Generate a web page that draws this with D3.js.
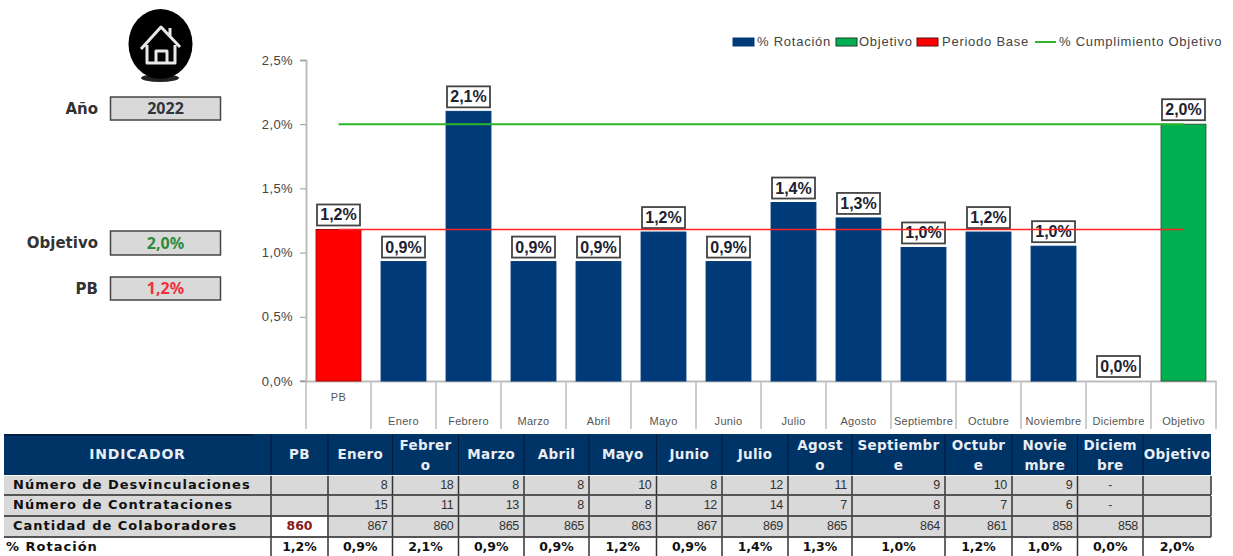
<!DOCTYPE html>
<html>
<head>
<meta charset="utf-8">
<script src="https://cdn.jsdelivr.net/npm/d3@7"></script>
<style>
  html, body { margin: 0; padding: 0; background: #fff; }
  svg { display: block; }
  text { font-family: "Liberation Sans", Arial, sans-serif; }
</style>
</head>
<body>
<div id="chart"></div>
<script>
var categories = ['PB', 'Enero', 'Febrero', 'Marzo', 'Abril', 'Mayo', 'Junio', 'Julio', 'Agosto', 'Septiembre', 'Octubre', 'Noviembre', 'Diciembre', 'Objetivo'];
var rotacion = [1.18, 0.93, 2.10, 0.93, 0.93, 1.16, 0.93, 1.39, 1.27, 1.04, 1.16, 1.05, 0, 2.0];
var etiquetas = ['1,2%', '0,9%', '2,1%', '0,9%', '0,9%', '1,2%', '0,9%', '1,4%', '1,3%', '1,0%', '1,2%', '1,0%', '0,0%', '2,0%'];
var objetivo = 2.0;
var periodoBase = 1.18;
var yTicks = [0, 0.5, 1, 1.5, 2, 2.5];

var headers = ['INDICADOR', ['PB'], ['Enero'], ['Febrer', 'o'], ['Marzo'], ['Abril'], ['Mayo'], ['Junio'], ['Julio'], ['Agost', 'o'], ['Septiembr', 'e'], ['Octubr', 'e'], ['Novie', 'mbre'], ['Diciem', 'bre'], ['Objetivo']];
var indicadores = ['Número de Desvinculaciones', 'Número de Contrataciones', 'Cantidad de Colaboradores', '% Rotación'];
var desvinculaciones = ['', '8', '18', '8', '8', '10', '8', '12', '11', '9', '10', '9', '-', ''];
var contrataciones = ['', '15', '11', '13', '8', '8', '12', '14', '7', '8', '7', '6', '-', ''];
var colaboradores = ['860', '867', '860', '865', '865', '863', '867', '869', '865', '864', '861', '858', '858', ''];
var rotacionFila = ['1,2%', '0,9%', '2,1%', '0,9%', '0,9%', '1,2%', '0,9%', '1,4%', '1,3%', '1,0%', '1,2%', '1,0%', '0,0%', '2,0%'];

var W = 1233, H = 556;
var svg = d3.select('#chart').append('svg').attr('width', W).attr('height', H);

var x = d3.scaleBand().domain(categories).range([306, 1216]).paddingInner(0.31).paddingOuter(0.155);
var y = d3.scaleLinear().domain([0, 2.5]).range([381, 60]);
var step = x.step();
var cx = function (c) { return x(c) + x.bandwidth() / 2; };

// y axis
svg.append('g').attr('transform', 'translate(306,0)')
  .call(d3.axisLeft(y).tickValues(yTicks).tickSize(6).tickFormat(function (d) { return d.toFixed(1).replace('.', ',') + '%'; }))
  .call(function (g) {
    g.select('.domain').attr('stroke', '#bdbdbd').attr('stroke-width', 2);
    g.selectAll('.tick line').attr('stroke', '#9a9a9a');
    g.selectAll('text').attr('fill', '#444').style('font-size', '13px').style('letter-spacing', '0.4px').style('font-family', '"Liberation Sans"').attr('x', -13);
  });

// x axis with Excel style separators
svg.append('g').attr('transform', 'translate(0,381)')
  .call(d3.axisBottom(x).tickSize(0))
  .call(function (g) {
    g.select('.domain').attr('stroke', '#bdbdbd').attr('stroke-width', 2);
    g.selectAll('text')
      .attr('fill', '#555')
      .style('font-size', '11px')
      .style('letter-spacing', '0.3px')
      .style('font-family', '"Liberation Sans"')
      .attr('y', function (d) { return d === 'PB' ? 12 : 36; });
  });
svg.selectAll('.sep').data(d3.range(categories.length + 1)).enter().append('line')
  .attr('class', 'sep')
  .attr('x1', function (i) { return 306 + i * step; })
  .attr('x2', function (i) { return 306 + i * step; })
  .attr('y1', 381).attr('y2', 429)
  .attr('stroke', '#bdbdbd').attr('stroke-width', 1.5);
svg.append('line').attr('x1', 300).attr('x2', 306).attr('y1', 381).attr('y2', 381).attr('stroke', '#9a9a9a');

// bars
svg.selectAll('.bar').data(categories).enter().append('rect')
  .attr('class', 'bar')
  .attr('x', function (c) { return x(c); })
  .attr('width', x.bandwidth())
  .attr('y', function (c, i) { return y(rotacion[i]); })
  .attr('height', function (c, i) { return 381 - y(rotacion[i]); })
  .attr('fill', function (c) { return c === 'PB' ? '#ff0000' : c === 'Objetivo' ? '#00b050' : '#003a78'; })
  .attr('stroke', function (c) { return c === 'PB' ? '#b00000' : c === 'Objetivo' ? '#2d5a3c' : '#003a78'; })
  .attr('stroke-width', 1);

// reference lines
var lineFn = d3.line().x(function (d) { return cx(d.c); }).y(function (d) { return y(d.v); });
function refLine(v, color, width) {
  svg.append('path')
    .datum(categories.map(function (c) { return { c: c, v: v }; }))
    .attr('d', lineFn).attr('fill', 'none').attr('stroke', color).attr('stroke-width', width);
}

// data labels, always sit on the bar top
var labels = svg.selectAll('.lab').data(categories).enter().append('g').attr('class', 'lab')
  .attr('transform', function (c, i) { return 'translate(' + cx(c) + ',' + (y(rotacion[i]) - 14.5) + ')'; });
labels.append('rect').attr('x', -21.5).attr('y', -10.5).attr('width', 43).attr('height', 21)
  .attr('fill', '#fff').attr('stroke', '#444').attr('stroke-width', 1.8);
labels.append('text').attr('text-anchor', 'middle').attr('y', 5.5)
  .attr('fill', '#1c2230').style('font-size', '16px').style('font-weight', 'bold')
  .text(function (c, i) { return etiquetas[i]; });

refLine(objetivo, '#2fb52a', 2);
refLine(periodoBase, '#ff2020', 1.4);

// legend
var legend = svg.append('g').attr('transform', 'translate(0,42)');
var legendFont = function (t) { t.attr('fill', '#444').style('font-size', '13px').style('letter-spacing', '0.75px'); };
[[733, '#003a78', '#003a78', 757, '% Rotación'], [836, '#00b050', '#1c3a25', 859, 'Objetivo'], [917, '#ff0000', '#5a1010', 942, 'Periodo Base']].forEach(function (l) {
  legend.append('rect').attr('x', l[0]).attr('y', -4).attr('width', 21).attr('height', 8).attr('fill', l[1]).attr('stroke', l[2]);
  legend.append('text').attr('x', l[3]).attr('y', 4).call(legendFont).text(l[4]);
});
legend.append('line').attr('x1', 1035).attr('x2', 1056).attr('y1', 0).attr('y2', 0).attr('stroke', '#2fb52a').attr('stroke-width', 2);
legend.append('text').attr('x', 1059).attr('y', 4).call(legendFont).text('% Cumplimiento Objetivo');

// side panel
var panel = [['Año', '2022', '#2f3640', 97, 23], ['Objetivo', '2,0%', '#2e8b3d', 231, 24], ['PB', '1,2%', '#f0303c', 277, 23]];
panel.forEach(function (p) {
  svg.append('text').attr('x', 98).attr('y', p[3] + p[4] / 2 + 5).attr('text-anchor', 'end')
    .style('font-family', '"DejaVu Sans"').style('font-weight', 'bold').style('font-size', '15px')
    .attr('fill', '#333').text(p[0]);
  svg.append('rect').attr('x', 110.5).attr('y', p[3]).attr('width', 110).attr('height', p[4])
    .attr('fill', '#d9d9d9').attr('stroke', '#444').attr('stroke-width', 1.5);
  svg.append('text').attr('x', 165.5).attr('y', p[3] + p[4] / 2 + 5.5).attr('text-anchor', 'middle')
    .style('font-family', '"Noto Sans"').style('font-weight', 'bold').style('font-size', '16px')
    .attr('fill', p[2]).text(p[1]);
});

// home icon
var icon = svg.append('g');
icon.append('ellipse').attr('cx', 160).attr('cy', 78).attr('rx', 19).attr('ry', 4).attr('fill', '#222');
icon.append('ellipse').attr('cx', 160.5).attr('cy', 44).attr('rx', 32).attr('ry', 35).attr('fill', '#000');
icon.append('path').attr('fill', 'none').attr('stroke', '#e8e8e8').attr('stroke-width', 3).attr('stroke-linejoin', 'round')
  .attr('d', 'M141 49 L161 27 L180 47 M147 45 V63 H175 V45 M156 63 V51 H167 V63 M170 36 V28');

// table
var colEdges = [4, 271, 328, 392.5, 458.5, 524, 589, 656.5, 722, 788, 852, 945, 1012, 1077.5, 1143, 1211];
var tableRows = [desvinculaciones, contrataciones, colaboradores, rotacionFila];
var rowTop = [476, 496, 517, 538];
var rowBottom = [494, 515, 536, 556];
var navy = '#003366';

svg.append('rect').attr('x', 4).attr('y', 434).attr('width', 1207).attr('height', 41).attr('fill', navy);
svg.append('rect').attr('x', 4).attr('y', 434).attr('width', 249).attr('height', 2).attr('fill', '#001f44');

headers.forEach(function (h, i) {
  var mid = (colEdges[i] + colEdges[i + 1]) / 2;
  var lines = Array.isArray(h) ? h : [h];
  lines.forEach(function (t, k) {
    svg.append('text').attr('x', mid)
      .attr('y', lines.length === 1 ? 459 : 450 + k * 20)
      .attr('text-anchor', 'middle').attr('fill', '#e8eef4')
      .style('font-family', '"DejaVu Sans"').style('font-weight', 'bold')
      .style('font-size', i === 0 ? '14px' : '13.5px').style('letter-spacing', i === 0 ? '0.8px' : '0.3px')
      .text(t);
  });
  if (i > 0) {
    svg.append('line').attr('x1', colEdges[i]).attr('x2', colEdges[i]).attr('y1', 434).attr('y2', 475).attr('stroke', '#001a3a');
  }
});

indicadores.forEach(function (name, r) {
  var t = rowTop[r], b = rowBottom[r];
  if (r < 3) {
    svg.append('rect').attr('x', 4).attr('y', t).attr('width', 1207).attr('height', b - t).attr('fill', '#d9d9d9');
    svg.append('line').attr('x1', 4).attr('x2', 1211).attr('y1', b + 1).attr('y2', b + 1).attr('stroke', '#555').attr('stroke-width', 2);
  }
  svg.append('text').attr('x', r < 3 ? 13 : 6).attr('y', t + 13)
    .attr('fill', '#111').style('font-family', '"DejaVu Sans"').style('font-weight', 'bold').style('font-size', '13px').style('letter-spacing', '1px')
    .text(name);
  tableRows[r].forEach(function (v, c) {
    var left = colEdges[c + 1], right = colEdges[c + 2];
    if (r === 2 && c === 0) {
      svg.append('rect').attr('x', left + 1).attr('y', t).attr('width', right - left - 2).attr('height', b - t).attr('fill', '#fff');
    }
    if (v === '') { return; }
    var txt = svg.append('text').attr('y', t + 13).text(v);
    if (r === 3) {
      txt.attr('x', (left + right) / 2).attr('text-anchor', 'middle').attr('fill', '#111')
        .style('font-family', '"DejaVu Sans"').style('font-weight', 'bold').style('font-size', '12.5px');
    } else if (r === 2 && c === 0) {
      txt.attr('x', (left + right) / 2).attr('text-anchor', 'middle').attr('fill', '#8b1a1a')
        .style('font-family', '"DejaVu Sans"').style('font-weight', 'bold').style('font-size', '12.5px');
    } else if (v === '-') {
      txt.attr('x', (left + right) / 2).attr('text-anchor', 'middle').attr('fill', '#444').style('font-size', '12px');
    } else {
      txt.attr('x', right - 5).attr('text-anchor', 'end').attr('fill', '#333').style('font-size', '12.5px').style('letter-spacing', '-0.3px');
    }
  });
  colEdges.forEach(function (e, i) {
    if (i === 0 || i === colEdges.length - 1 && r === 3) { return; }
    svg.append('line').attr('x1', e).attr('x2', e).attr('y1', t).attr('y2', b + 1).attr('stroke', '#333').attr('stroke-width', 1.5);
  });
});
</script>
</body>
</html>
